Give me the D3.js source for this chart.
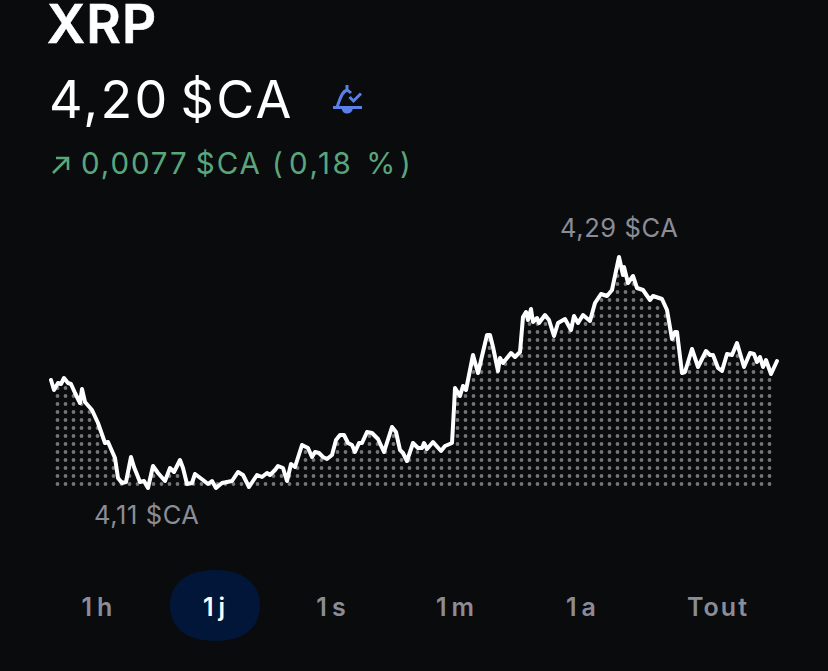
<!DOCTYPE html>
<html><head><meta charset="utf-8">
<script src="https://cdnjs.cloudflare.com/ajax/libs/d3/7.8.5/d3.min.js"></script>
<style>html,body{margin:0;padding:0;background:#0a0b0d}svg{display:block}text{font-family:Inter,"Noto Sans",sans-serif}</style>
</head><body><svg id="c" width="828" height="671"></svg>
<script>
const minutes=[0,6,14,20,26,34,40,48,58,62,68,82,94,108,114,128,134,142,150,160,166,178,186,194,204,214,228,238,246,258,264,272,282,288,304,314,322,330,342,362,374,384,396,412,422,432,
438,448,454,464,472,480,488,502,514,522,528,536,544,552,562,570,578,586,594,602,608,616,622,632,642,654,666,682,690,698,704,712,724,734,742,746,752,764,780,788,802,806,808,818,824,830,844,854,
872,878,884,894,898,904,920,928,938,944,950,954,960,964,972,976,988,996,1006,1014,1028,1040,1046,1054,1064,1078,1088,1100,1112,1122,1136,1144,1146,1154,1164,1172,1184,1198,1204,1222,1232,1242,1248,1252,1262,1268,1282,1294,1310,1318,1324,1334,1342,1352,1362,1372,1386,1398,1406,1412,1418,1424,1430,1440,1452];
const prices=[4.1964,4.1884,4.194,4.1932,4.198,4.194,4.1932,4.186,4.178,4.1892,4.1788,4.1724,4.162,4.146,4.1468,4.134,4.118,4.114,4.1148,4.1348,4.1268,4.1148,4.1156,4.11,4.1276,4.122,4.1156,4.126,4.1228,4.1324,4.126,4.1132,4.114,4.1212,4.1164,4.1132,4.1156,4.11,4.114,4.1156,4.1228,4.1204,4.1108,4.1204,4.1188,4.122,
4.1204,4.1244,4.1276,4.126,4.1156,4.1292,4.1268,4.1444,4.142,4.1348,4.1388,4.138,4.1348,4.1332,4.1364,4.1484,4.1524,4.1524,4.146,4.1444,4.1388,4.146,4.146,4.1548,4.154,4.1492,4.1388,4.1588,4.1548,4.1404,4.138,4.1316,4.146,4.142,4.142,4.146,4.1412,4.1468,4.1396,4.1436,4.146,4.174,4.19,4.1836,4.1916,4.1884,4.2164,4.202,
4.2324,4.2324,4.2228,4.2036,4.214,4.21,4.218,4.2148,4.2188,4.2468,4.2508,4.2444,4.2532,4.2428,4.246,4.242,4.2484,4.2444,4.2316,4.242,4.2452,4.2364,4.2476,4.242,4.2484,4.2436,4.258,4.2652,4.2636,4.2684,4.2948,4.2804,4.2868,4.274,4.2796,4.27,4.2684,4.2604,4.2636,4.2612,4.2524,4.2292,4.2348,4.2348,4.202,4.2028,4.2212,4.2068,4.2196,4.2164,4.2164,4.206,4.2036,4.2172,4.2164,4.226,4.2068,4.218,4.2172,4.2108,4.2148,4.2068,4.2124,4.2012,4.2116];
const title="XRP", priceLabel="4,20 $CA", changeAmount="0,0077 $CA", changeOpen="(", changePct="0,18 %", changeClose=")", highLabel="4,29 $CA", lowLabel="4,11 $CA";
const ranges=["1h","1j","1s","1m","1a","Tout"];
const activeRange="1j";

const svg=d3.select("#c");
const BG="#0a0b0d", GREY="#8a8d98", GREEN="#5aa67c", BLUE="#5b7fe8";
svg.append("rect").attr("width",828).attr("height",671).attr("fill",BG);

const x=d3.scaleLinear().domain([0,1452]).range([51,777]);
const y=d3.scaleLinear().domain([4.11,4.2948]).range([488,257]);
const pts=minutes.map((m,i)=>[x(m),y(prices[i])]);

const lineAt=px=>{const i=Math.max(1,d3.bisectLeft(pts.map(p=>p[0]),px));const a=pts[i-1],b=pts[i];return a[1]+(b[1]-a[1])*(px-a[0])/(b[0]-a[0]);};
const dots=[];
d3.range(57.5,771,8).forEach(px=>{const top=lineAt(px);
  d3.range(484,240,-8).forEach(py=>{if(py===484||py>=top+3)dots.push([px,py]);});});
svg.append("g").selectAll("circle").data(dots).join("circle")
  .attr("cx",d=>d[0]).attr("cy",d=>d[1]).attr("r",1.9).attr("fill","#767678");

svg.append("path").attr("d",d3.line()(pts)).attr("fill","none").attr("stroke","#fff")
  .attr("stroke-width",4).attr("stroke-linejoin","round").attr("stroke-linecap","round");

// header
svg.append("text").attr("x",47).attr("y",43).attr("fill","#fff").attr("font-size",53).attr("font-weight",600).attr("letter-spacing",1.2).attr("stroke","#fff").attr("stroke-width",0.6).text(title);
svg.append("text").attr("x",49).attr("y",118).attr("fill","#fff").attr("font-size",52).attr("font-weight",400).attr("letter-spacing",2.3).attr("word-spacing",-6).text(priceLabel);
const ch=svg.append("text").attr("y",174).attr("fill",GREEN).attr("font-size",29.5).attr("letter-spacing",1.9).attr("word-spacing",-3);
ch.append("tspan").attr("x",81).text(changeAmount);
ch.append("tspan").attr("x",272).text(changeOpen);
ch.append("tspan").attr("x",289).attr("letter-spacing",2.6).attr("word-spacing",2).text(changePct);
ch.append("tspan").attr("x",400).text(changeClose);

// arrow
svg.append("path").attr("d","M53 173L68 158M56 158H68V170").attr("fill","none").attr("stroke",GREEN).attr("stroke-width",2.6);

// bell icon
const bell=svg.append("g").attr("fill","none").attr("stroke",BLUE).attr("stroke-width",3);
bell.append("path").attr("d","M333 107.5H362");
bell.append("path").attr("d","M347 85V90C341 92 340 100 337 107");
bell.append("path").attr("d","M347 90C349 91 350 92 351 93");
bell.append("path").attr("d","M349.5 97L353.5 101L361 93.5");
svg.append("path").attr("d","M341.5 108.5H353C352 112.5 349.5 113.5 347 113.5C344.5 113.5 342.5 112.5 341.5 108.5Z").attr("fill",BLUE);

// min/max labels
svg.append("text").attr("x",560).attr("y",237).attr("fill",GREY).attr("font-size",25.5).attr("letter-spacing",0.6).text(highLabel);
svg.append("text").attr("x",94).attr("y",524).attr("fill",GREY).attr("font-size",25.5).attr("letter-spacing",0.6).text(lowLabel);

// range selector
const cx=d3.scaleOrdinal().domain(ranges).range([99.5,216.5,333.5,457.5,583.5,718]);
svg.append("path").attr("d","M215 570C245 570 260 585 260 605C260 627 245 641 215 641C185 641 170 627 170 605C170 585 185 570 215 570Z").attr("fill","#011638");
svg.selectAll("text.r").data(ranges).join("text").attr("class","r")
  .attr("x",d=>cx(d)).attr("y",616).attr("text-anchor","middle").attr("font-size",25).attr("font-weight",600)
  .attr("letter-spacing",d=>d==="Tout"?2:5).attr("fill",d=>d===activeRange?"#fff":GREY).text(d=>d);
</script></body></html>
